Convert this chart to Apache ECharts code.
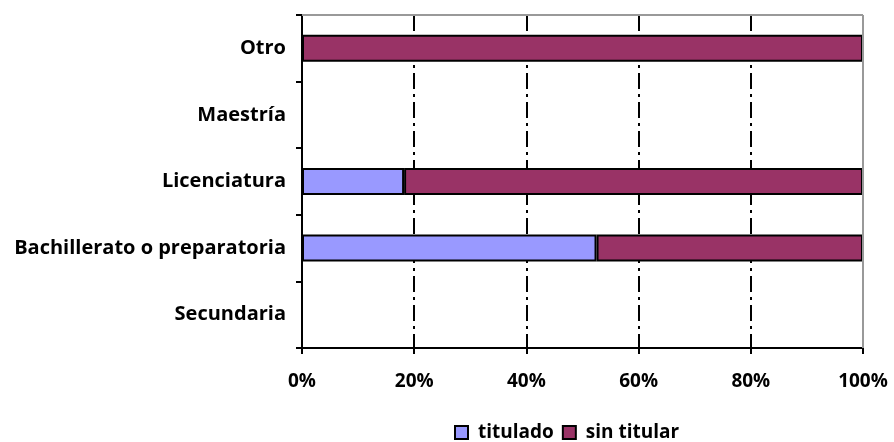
<!DOCTYPE html>
<html>
<head>
<meta charset="utf-8">
<script src="https://cdn.jsdelivr.net/npm/echarts@6/dist/echarts.min.js"></script>
<style>
html, body { margin: 0; padding: 0; background: #fff; }
#chart { width: 894px; height: 442px; }
</style>
</head>
<body>
<div id="chart"></div>
<script>
// categories from bottom to top
const categories = ['Secundaria', 'Bachillerato o preparatoria', 'Licenciatura', 'Maestría', 'Otro'];
const titulado = [0, 52.5, 18.2, 0, 0];
const sinTitular = [0, 47.5, 81.8, 0, 100];
const xTicks = [0, 20, 40, 60, 80, 100];

const chart = echarts.init(document.getElementById('chart'));

const option = {
    animation: false,
    textStyle: { fontFamily: 'Open Sans' },
    grid: {
        left: 302,
        right: 31,
        top: 15,
        bottom: 94
    },
    legend: {
        bottom: -5,
        left: 449,
        itemWidth: 13,
        itemHeight: 13,
        itemGap: 8,
        icon: 'rect',
        textStyle: { fontSize: 19, color: '#000', fontWeight: 'bold', fontFamily: 'Open Sans', padding: [0, 0, 0, 5] },
        data: ['titulado', 'sin titular']
    },
    xAxis: {
        type: 'value',
        min: 0,
        max: 100,
        interval: 20,
        axisLine: { show: true, lineStyle: { color: '#000', width: 2 } },
        axisTick: { show: true, length: 6, lineStyle: { color: '#000', width: 2 } },
        axisLabel: {
            color: '#000',
            fontSize: 19,
            fontWeight: 'bold',
            margin: 24,
            formatter: function (v) { return xTicks.indexOf(v) >= 0 ? v + '%' : ''; }
        },
        splitLine: {
            show: true,
            lineStyle: { color: '#000', width: 2, type: [16, 5, 3, 5] }
        }
    },
    yAxis: {
        type: 'category',
        data: categories,
        axisLine: { show: true, lineStyle: { color: '#000', width: 2 } },
        axisTick: { show: true, length: 6, lineStyle: { color: '#000', width: 2 } },
        axisLabel: { color: '#000', fontSize: 20, fontWeight: 'bold', margin: 16 }
    },
    series: [
        {
            name: 'titulado',
            type: 'bar',
            stack: 'total',
            barWidth: 27,
            itemStyle: { color: '#9999ff', borderColor: '#000', borderWidth: 2 },
            data: titulado
        },
        {
            name: 'sin titular',
            type: 'bar',
            stack: 'total',
            barWidth: 27,
            itemStyle: { color: '#993366', borderColor: '#000', borderWidth: 2 },
            data: sinTitular
        },
        {
            // top and right frame of the plot area
            type: 'line',
            silent: true,
            symbol: 'none',
            legendHoverLink: false,
            markLine: {
                silent: true,
                symbol: 'none',
                label: { show: false },
                lineStyle: { color: '#999', width: 2, type: 'solid' },
                data: [
                    { xAxis: 100 },
                    [{ coord: [0, 'Otro'], y: 15 }, { coord: [100, 'Otro'], y: 15 }]
                ]
            },
            data: []
        }
    ]
};

chart.setOption(option);

window.addEventListener('resize', function () {
    chart.resize();
});
</script>
</body>
</html>
